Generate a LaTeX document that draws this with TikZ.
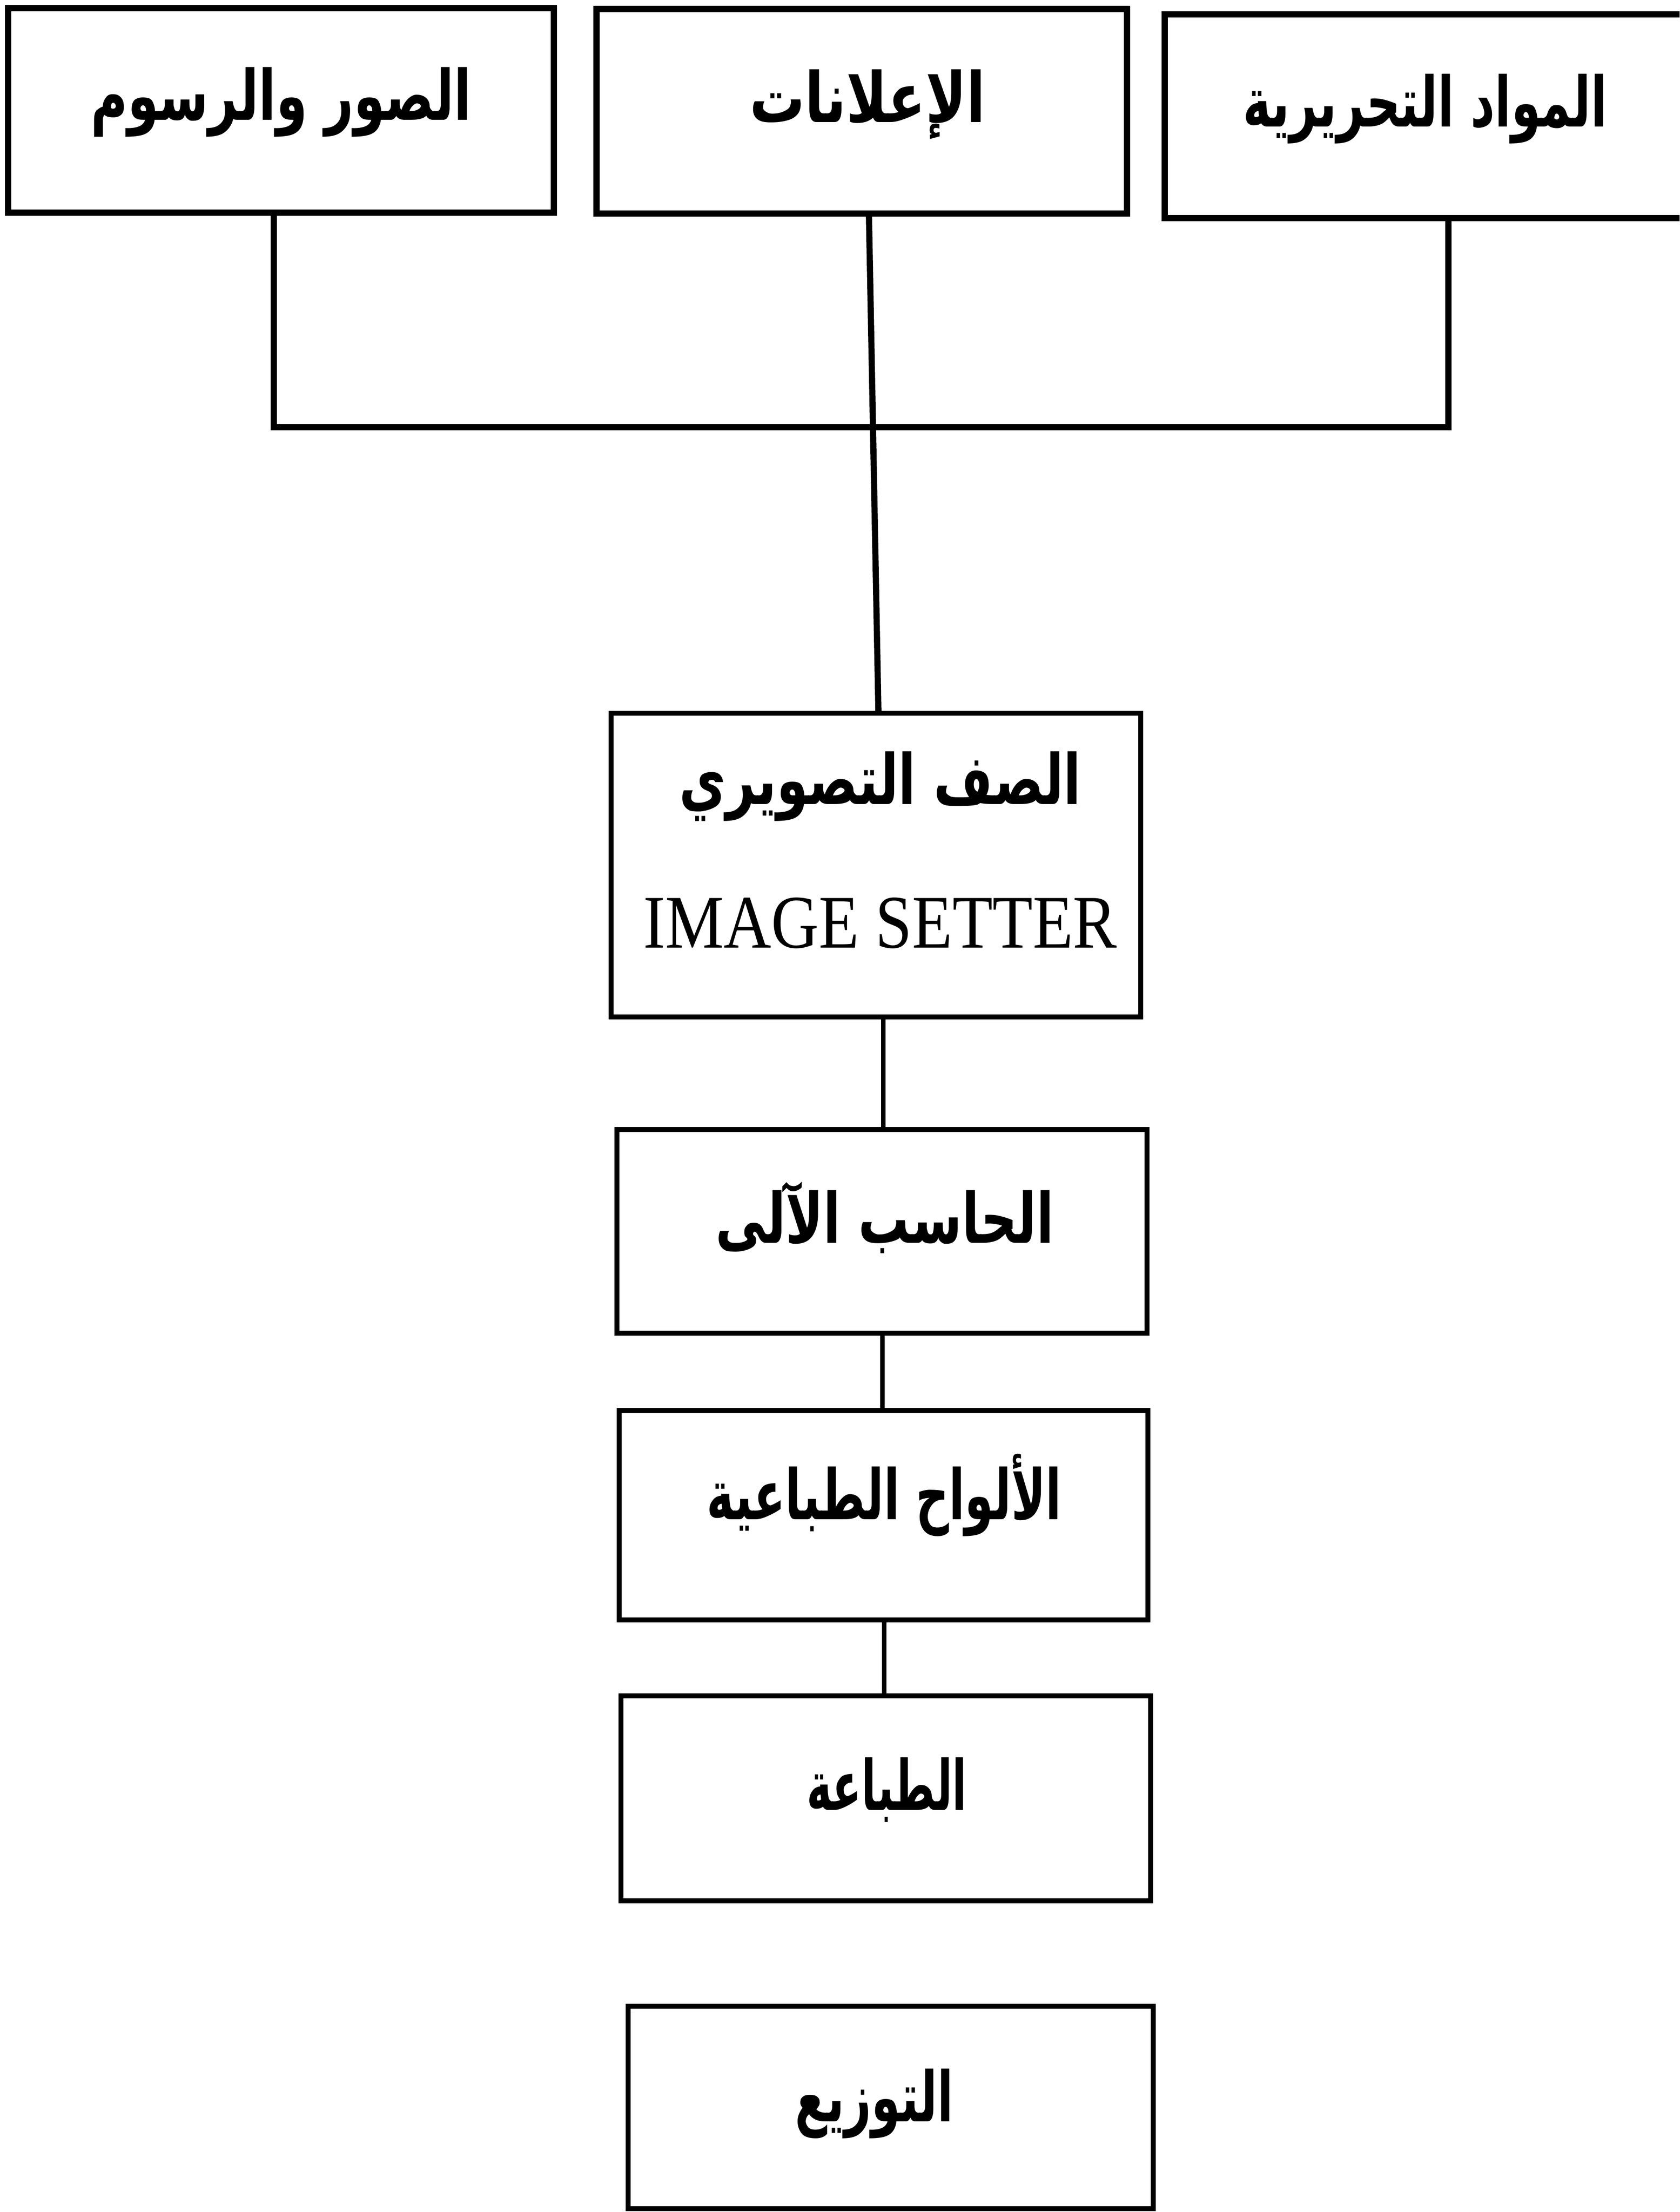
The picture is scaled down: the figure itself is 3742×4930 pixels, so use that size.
\documentclass[tikz,border=0pt]{standalone}
\usepackage{fontspec}
\usepackage{graphicx}
\TeXXeTstate=1
\newfontfamily\arabicfont[Script=Arabic]{DejaVu Sans}
\newfontfamily\latinserif{Liberation Serif}
\newcommand{\artext}[2]{\resizebox{#1}{\height}{\arabicfont\fontsize{44}{50}\selectfont\bfseries #2}}
\begin{document}
\begin{tikzpicture}[x=0.01cm,y=-0.01cm]
\tikzset{
  topbox/.style={draw, line width=4pt, inner sep=0pt, rectangle},
  lowbox/.style={draw, line width=3.1pt, inner sep=0pt, rectangle},
  conntop/.style={line width=3.9pt},
  connlow/.style={line width=3.1pt},
  lbl/.style={anchor=base, inner sep=0pt}
}
\useasboundingbox (0,0) rectangle (3742,4930);
\fill[white] (0,0) rectangle (3742,4930);
\clip (0,0) rectangle (3742,4930);

% boxes
\node[topbox, minimum width=12.15cm, minimum height=4.55cm] (b1) at (626,246) {};
\node[topbox, minimum width=11.81cm, minimum height=4.55cm] (b2) at (1920,248) {};
\node[topbox, minimum width=11.85cm, minimum height=4.54cm] (b3) at (3187.5,259) {};
\node[lowbox, minimum width=11.79cm, minimum height=6.76cm] (b4) at (1951.5,1928) {};
\node[lowbox, minimum width=11.80cm, minimum height=4.53cm] (b5) at (1965,2744.5) {};
\node[lowbox, minimum width=11.77cm, minimum height=4.66cm] (b6) at (1968.5,3377) {};
\node[lowbox, minimum width=11.79cm, minimum height=4.56cm] (b7) at (1973.5,4008) {};
\node[lowbox, minimum width=11.69cm, minimum height=4.50cm] (b8) at (1984.5,4697) {};

% texts
\node[lbl] (t1) at (626,268) {\artext{8.47cm}{\beginR الصور والرسوم\endR}};
\node[lbl] (t2) at (1933,272) {\artext{5.25cm}{\beginR الإعلانات\endR}};
\node[lbl] (t3) at (3175,282) {\artext{8.11cm}{\beginR المواد التحريرية\endR}};
\node[lbl] (t4) at (1961,1792) {\artext{8.95cm}{\beginR الصف التصويري\endR}};
\node[lbl] (t4e) at (1961,2112) {\resizebox{10.55cm}{\height}{\latinserif\fontsize{48}{54}\selectfont IMAGE SETTER}};
\node[lbl] (t5) at (1971,2770) {\artext{7.53cm}{\beginR الحاسب الآلى\endR}};
\node[lbl] (t6) at (1970,3386) {\artext{7.90cm}{\beginR الألواح الطباعية\endR}};
\node[lbl] (t7) at (1976,4034) {\artext{3.57cm}{\beginR الطباعة\endR}};
\node[lbl] (t8) at (1948,4728) {\artext{3.53cm}{\beginR التوزيع\endR}};

% connectors
\coordinate (jl) at (610,952);
\coordinate (jr) at (3227,952);
\coordinate (mt) at (1936,952);
\coordinate (mb) at (1957,1000);
\coordinate (c45) at (1968,0);
\coordinate (c56) at (1966,0);
\coordinate (c67) at (1970,0);
\draw[conntop] (b1.south -| jl) -- (jl) -- (jr) -- (b3.south -| jr);
\draw[conntop] (b2.south -| mt) -- (b4.north -| mb);
\draw[connlow] (b4.south -| c45) -- (b5.north -| c45);
\draw[connlow] (b5.south -| c56) -- (b6.north -| c56);
\draw[connlow] (b6.south -| c67) -- (b7.north -| c67);
\end{tikzpicture}
\end{document}
